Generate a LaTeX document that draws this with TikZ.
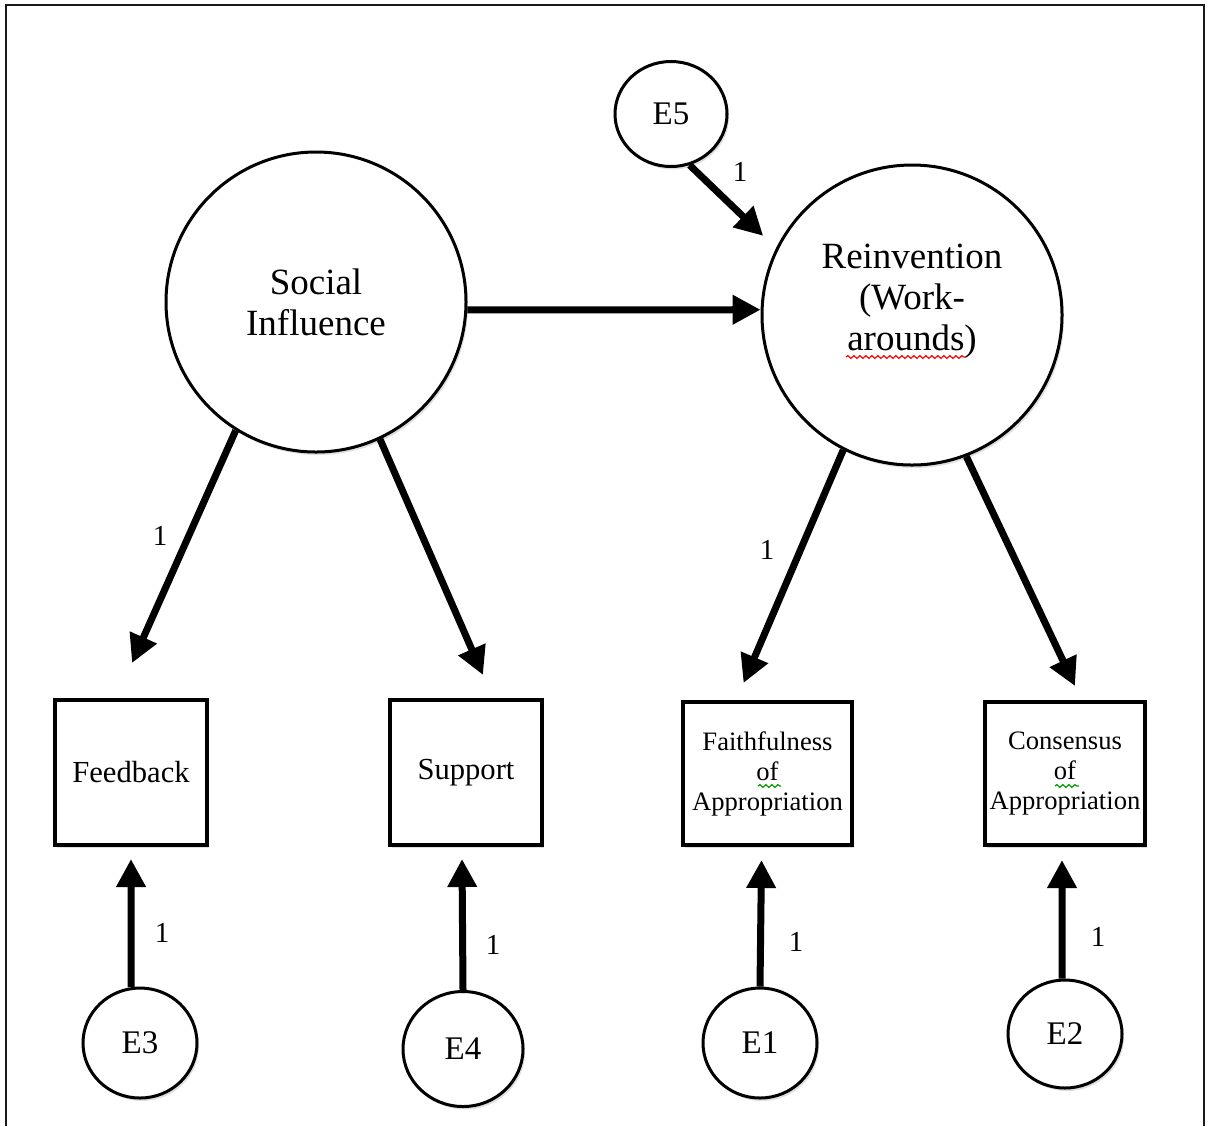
\documentclass[tikz,border=0pt]{standalone}
\usepackage{fontspec}
\setmainfont{Liberation Serif}
\usetikzlibrary{arrows.meta,shapes.geometric,shadows,decorations.pathmorphing}
\begin{document}
\begin{tikzpicture}[x=0.5pt,y=-0.5pt,>={Triangle[length=14pt,width=14pt]},
    shade/.style={drop shadow={shadow xshift=1pt,shadow yshift=-1.5pt,opacity=.25}},
    latent/.style={circle,draw,line width=1.5pt,fill=white,minimum size=150pt,inner sep=0pt,align=center,font=\fontsize{18.5}{20.5}\selectfont,shade},
    err/.style={ellipse,draw,line width=1.5pt,fill=white,minimum width=57pt,minimum height=55pt,inner sep=0pt,font=\fontsize{16.5}{18}\selectfont,shade},
    obs/.style={rectangle,draw,line width=2pt,fill=white,minimum width=76pt,minimum height=72.5pt,inner sep=0pt,align=center,font=\fontsize{15.3}{16}\selectfont,shade},
    small/.style={font=\fontsize{13.3}{15}\selectfont},
    arr/.style={->,line width=3.5pt},
    one/.style={inner sep=0pt,font=\fontsize{14.5}{16}\selectfont},
    spell/.style={line width=.6pt,decorate,decoration={snake,amplitude=.7pt,segment length=3pt}}]
    \useasboundingbox (0,0) rectangle (1208,1126);
    \draw[line width=1pt,black!90] (6,1126) -- (6,5) -- (1204,5) -- (1204,1126);
    % latent variables
    \node[latent] (si) at (316,302) {Social\\Influence};
    \node[latent] (ri) at (912,315) {};
    \node[align=center,font=\fontsize{18.5}{20.5}\selectfont] (rtxt) at ([yshift=7pt]ri.center) {Reinvention\\(Work-\\arounds)};
    \node[err,minimum width=56pt,minimum height=52.5pt] (e5) at (671,114) {E5};
    % indicators
    \node[obs] (fb) at (131,772.5) {Feedback};
    \node[obs] (sp) at (466,772.5) {Support};
    \node[obs,small,minimum width=84.5pt,minimum height=71.5pt] (fa) at (767.5,773.5) {Faithfulness\\of\\Appropriation};
    \node[obs,small,minimum width=80pt,minimum height=71.5pt] (co) at (1065,773.5) {Consensus\\of\\Appropriation};
    \node[err] (e3) at (140,1043) {E3};
    \node[err,minimum width=60pt,minimum height=57.5pt] (e4) at (463,1049) {E4};
    \node[err] (e1) at (760,1043) {E1};
    \node[err,minimum height=54pt] (e2) at (1065,1034) {E2};
    % paths
    \draw[arr] (si.357) -- (ri.178);
    \draw[arr] (si.238) -- ([shift={(1,-35)}]fb.north);
    \draw[arr] (si.295) -- ([shift={(17,-23)}]sp.north);
    \draw[arr] (ri.243) -- ([shift={(-24,-17)}]fa.north);
    \draw[arr] (ri.291) -- ([shift={(10,-14)}]co.north);
    \draw[arr] (e5.290) -- ([shift={(-15,-8)}]ri.152);
    \draw[arr] (e3.99) -- ([shift={(0,12)}]fb.south);
    \draw[arr] (e4.north) -- ([shift={(-4,12)}]sp.south);
    \draw[arr] (e1.north) -- ([shift={(-6,13)}]fa.south);
    \draw[arr] (e2.93) -- ([shift={(-3,13)}]co.south);
    \node[one] (w5) at (740,172) {1};
    \node[one] (wfb) at (160,536) {1};
    \node[one] (wfa) at (767,550) {1};
    \node[one] (w3) at (162,933) {1};
    \node[one] (w4) at (493,945) {1};
    \node[one] (w1) at (796,942) {1};
    \node[one] (w2) at (1098,937) {1};
    % spelling marks
    \draw[spell,red] (846,357) -- (966,357);
    \draw[spell,green!60!black] (758,786) -- (781,786);
    \draw[spell,green!60!black] (1055,786) -- (1079,786);
\end{tikzpicture}
\end{document}
